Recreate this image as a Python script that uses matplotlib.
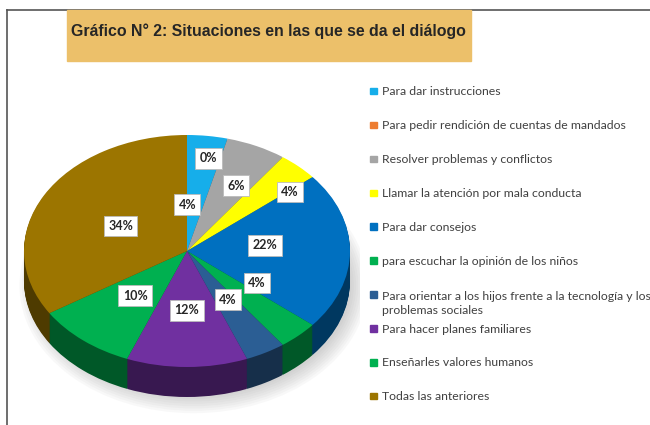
import numpy as np
import matplotlib.pyplot as plt
from matplotlib.patches import Rectangle, Ellipse
from matplotlib.lines import Line2D
from matplotlib.colors import to_rgb

categories = [
    "Para dar instrucciones",
    "Para pedir rendición de cuentas de mandados",
    "Resolver problemas y conflictos",
    "Llamar la atención por mala conducta",
    "Para dar consejos",
    "para escuchar la opinión de los niños",
    "Para orientar a los hijos frente a la tecnología y los\nproblemas sociales",
    "Para hacer planes familiares",
    "Enseñarles valores humanos",
    "Todas las anteriores",
]
values = [4, 0, 6, 4, 22, 4, 4, 12, 10, 34]
colors = ['#16AEEA', '#ED7D31', '#A5A5A5', '#FFFF00', '#0070C0',
          '#00B050', '#2B5E94', '#7030A0', '#00B050', '#9C7500']

title = "Gráfico N° 2: Situaciones en las que se da el diálogo"

W, H = 650, 425
fig = plt.figure(figsize=(W / 100, H / 100), dpi=100)


def fx(x):
    return x / W


def fy(y):
    return 1 - y / H


# frame lines of the page
fig.add_artist(Line2D([fx(7), fx(7)], [fy(10), fy(425)], color='#555555', lw=1.2))
fig.add_artist(Line2D([fx(7), fx(650)], [fy(10), fy(10)], color='#555555', lw=1.2))

# title box
fig.add_artist(Rectangle((fx(67), fy(61)), fx(404), 51 / H, color='#ECC06A', zorder=2))
fig.text(fx(268), fy(31), title, ha='center', va='center', fontsize=11.4,
         fontweight='bold', color='#262626',
         family=['Liberation Sans', 'DejaVu Sans'], zorder=3)

# pie axes (pixel box 0..360 x 120..420)
ax = fig.add_axes([fx(0), fy(420), fx(360), 300 / H])
cx, cy, rx, ry, depth_px = 187, 251, 163, 116, 30
depth = depth_px / ry

# soft shadow
for i in range(8):
    ax.add_patch(Ellipse((0.04, -depth - 0.04), 2 * (0.97 + i * 0.014), 2 * (0.96 + i * 0.02),
                         color='#888888', alpha=0.05, lw=0, zorder=0))

dark = [tuple(c * 0.5 for c in to_rgb(col)) for col in colors]
n = 30
for k in range(n, 0, -1):
    ax.pie(values, colors=dark, startangle=90, counterclock=False,
           center=(0, -depth * k / n), wedgeprops=dict(linewidth=0))
wedges, _ = ax.pie(values, colors=colors, startangle=90, counterclock=False,
                   wedgeprops=dict(linewidth=0))

# percentage labels: radius and angle shift from the slice middle
label_r = [0.40, 0.81, 0.64, 0.81, 0.48, 0.51, 0.49, 0.51, 0.50, 0.46]
label_shift = [7, 5, -3, -8, 6, 14, 2, 0, 0, 1]
cum = np.cumsum([0] + values)
for i, v in enumerate(values):
    mid = 90 - 360 * (cum[i] + v / 2) / 100 + label_shift[i]
    a = np.deg2rad(mid)
    ax.text(label_r[i] * np.cos(a), label_r[i] * np.sin(a), f"{v}%",
            ha='center', va='center', fontsize=9, fontweight='bold', color='#262626',
            family='Lato', zorder=5,
            bbox=dict(boxstyle='square,pad=0.35', fc='white', ec='#BBBBBB', lw=0.6))

ax.set_aspect('auto')
ax.set_xlim(-cx / rx, (360 - cx) / rx)
ax.set_ylim(-(420 - cy) / ry, (cy - 120) / ry)
ax.axis('off')

# legend (baseline of a multi-line text sits on its last line)
line_px = 15
for i, (lab, col) in enumerate(zip(categories, colors)):
    y = 91 + i * 33.9
    extra = lab.count('\n') * line_px
    fig.add_artist(Rectangle((fx(370), fy(y + 3.3)), 6.5 / W, 6.5 / H, color=col))
    fig.text(fx(382), fy(y + 4.3 + extra), lab, ha='left', va='baseline',
             fontsize=8.8, color='#404040', family='Lato', linespacing=1.25)

fig.savefig('out.png', dpi=100)
